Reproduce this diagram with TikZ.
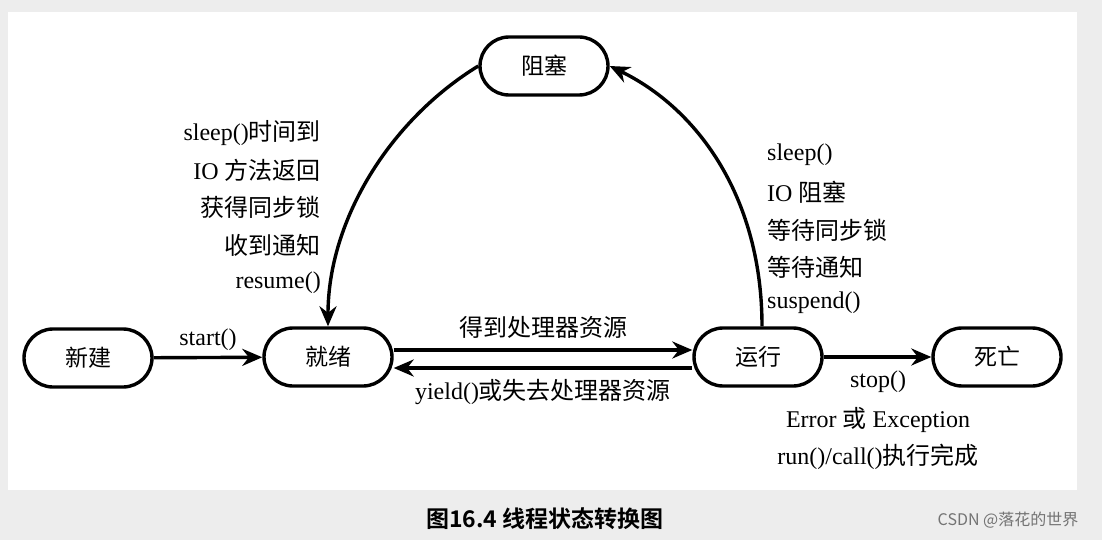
\documentclass[tikz,border=0pt]{standalone}
\usepackage{fontspec}
\setmainfont{Liberation Serif}
\newfontfamily\cjk{Noto Sans CJK SC}
\newfontfamily\cjkb{Noto Sans CJK SC Bold}
\usetikzlibrary{arrows.meta}
\begin{document}
\begin{tikzpicture}[x=1pt,y=-1pt,
  st/.style={draw,line width=3.4pt,rounded corners=29pt,minimum width=128pt,minimum height=58pt,font=\cjk\fontsize{23}{25}\selectfont},
  ar/.style={line width=3.4pt,-{Stealth[length=20pt,width=17pt]}},
  lb/.style={font=\fontsize{24}{26}\selectfont,inner sep=0pt}]
\fill[black!7] (0,0) rectangle (1102,540);
\fill[white] (8,12) rectangle (1077,490);
\node[st] (block) at (544,66) {阻塞};
\node[st] (new) at (88,358) {新建};
\node[st] (ready) at (328,357) {就绪};
\node[st] (run) at (758,357) {运行};
\node[st] (dead) at (997,357) {死亡};
\draw[ar] (new) -- (ready) node[midway,above=5pt,lb]{start()};
\draw[ar] ([yshift=7pt]ready.east) -- ([yshift=7pt]run.west) node[midway,above=10pt,lb]{\cjk 得到处理器资源};
\draw[ar] ([yshift=-11pt]run.west) -- ([yshift=-11pt]ready.east) node[midway,below=10pt,lb]{yield()\cjk 或失去处理器资源};
\draw[ar] (run) -- (dead);
\draw[ar] (run.north) ++(4pt,0) coordinate (rt) (rt) .. controls (762,200) and (700,110) .. (block.east);
\draw[ar] (block.west) .. controls (390,120) and (328,220) .. (ready.north);
\node[lb,anchor=east] (l1) at (321,133) {sleep()\cjk 时间到};
\node[lb,anchor=east] (l2) at (321,170) {IO \cjk 方法返回};
\node[lb,anchor=east] (l3) at (321,207) {\cjk 获得同步锁};
\node[lb,anchor=east] (l4) at (321,245) {\cjk 收到通知};
\node[lb,anchor=east] (l5) at (321,283) {resume()};
\node[lb,anchor=west] (r1) at (767,155) {sleep()};
\node[lb,anchor=west] (r2) at (767,192) {IO \cjk 阻塞};
\node[lb,anchor=west] (r3) at (767,230) {\cjk 等待同步锁};
\node[lb,anchor=west] (r4) at (767,267) {\cjk 等待通知};
\node[lb,anchor=west] (r5) at (767,303) {suspend()};
\node[lb] (d1) at (878,382) {stop()};
\node[lb] (d2) at (878,420) {Error {\cjk 或} Exception};
\node[lb] (d3) at (878,457) {run()/call()\cjk 执行完成};
\node[font=\cjkb\fontsize{23}{25}\selectfont] (cap) at (545,519) {图16.4 线程状态转换图};
\node[font=\cjk\fontsize{16}{18}\selectfont,text=black!55] (wm) at (1008,520) {CSDN @落花的世界};
\end{tikzpicture}
\end{document}
